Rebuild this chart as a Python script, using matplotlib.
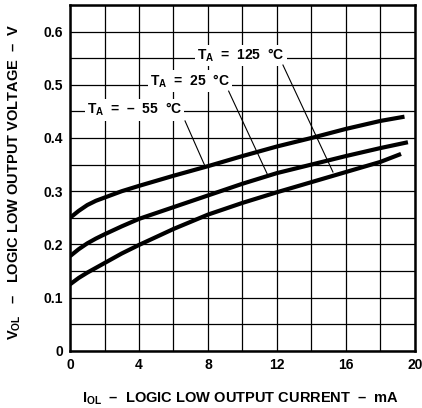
import matplotlib
matplotlib.use("Agg")
import matplotlib.pyplot as plt
import numpy as np
from matplotlib.ticker import MultipleLocator

plt.rcParams['font.family'] = ['Liberation Sans', 'DejaVu Sans']
plt.rcParams['font.weight'] = 'bold'
plt.rcParams['mathtext.fontset'] = 'custom'
plt.rcParams['mathtext.rm'] = 'Liberation Sans:bold'
plt.rcParams['mathtext.bf'] = 'Liberation Sans:bold'
plt.rcParams['mathtext.it'] = 'Liberation Sans:bold'

# data
i_125 = [0, 0.5, 1, 1.5, 2, 3, 4, 6, 8, 10, 12, 14, 16, 18, 19.4]
v_125 = [0.25, 0.263, 0.274, 0.282, 0.288, 0.300, 0.310, 0.329, 0.347, 0.366, 0.384, 0.400, 0.417, 0.432, 0.440]
i_25 = [0, 0.5, 1, 1.5, 2, 3, 4, 6, 8, 10, 12, 14, 16, 18, 19.6]
v_25 = [0.178, 0.191, 0.202, 0.211, 0.219, 0.234, 0.248, 0.270, 0.292, 0.314, 0.334, 0.350, 0.366, 0.381, 0.392]
i_m55 = [0, 0.5, 1, 1.5, 2, 3, 4, 6, 8, 10, 12, 14, 16, 18, 19.2]
v_m55 = [0.125, 0.137, 0.147, 0.156, 0.165, 0.183, 0.199, 0.229, 0.256, 0.278, 0.298, 0.317, 0.336, 0.355, 0.370]

x_ticks = [0, 4, 8, 12, 16, 20]
y_ticks = [0, 0.1, 0.2, 0.3, 0.4, 0.5, 0.6]
y_tick_labels = ['0', '0.1', '0.2', '0.3', '0.4', '0.5', '0.6']

labels = [r'$\mathbf{T_A}$  =  125  °C', r'$\mathbf{T_A}$  =  25  °C', r'$\mathbf{T_A}$  =  –  55  °C']
label_pos = [(9.9, 0.555), (6.95, 0.507), (3.75, 0.453)]
leader_start = [(12.35, 0.537), (9.2, 0.488), (6.67, 0.432)]
leader_end = [(15.25, 0.336), (11.5, 0.328), (7.83, 0.347)]

fig = plt.figure(figsize=(4.22, 4.08), dpi=100)
ax = fig.add_axes([0.166, 0.140, 0.817, 0.848])

for xs, ys in [(i_125, v_125), (i_25, v_25), (i_m55, v_m55)]:
    ax.plot(xs, ys, color='black', lw=3.0, solid_capstyle='butt', solid_joinstyle='round', zorder=3)

ax.set_xlim(0, 20)
ax.set_ylim(0, 0.65)
ax.set_xticks(x_ticks)
ax.set_yticks(y_ticks)
ax.set_yticklabels(y_tick_labels)
ax.xaxis.set_minor_locator(MultipleLocator(2))
ax.yaxis.set_minor_locator(MultipleLocator(0.05))
ax.grid(True, which='both', color='black', lw=0.9, zorder=1)
ax.tick_params(which='both', length=0, labelsize=10, pad=5)
for lab in ax.get_xticklabels() + ax.get_yticklabels():
    lab.set_fontweight('bold')
for s in ax.spines.values():
    s.set_linewidth(1.8)

for txt, (tx, ty), (sx, sy), (ex, ey) in zip(labels, label_pos, leader_start, leader_end):
    ax.text(tx, ty, txt, ha='center', va='center', fontsize=10, fontweight='bold',
            bbox=dict(facecolor='white', edgecolor='none', pad=1.5), zorder=4)
    ax.plot([sx, ex], [sy, ey], color='black', lw=0.8, zorder=4)

fig.text(0.57, 0.022, r'$\mathbf{I_{OL}}$  –  LOGIC LOW OUTPUT CURRENT  –  mA', ha='center', va='center',
         fontsize=10.5, fontweight='bold')
fig.text(0.035, 0.555, r'$\mathbf{V_{OL}}$   –   LOGIC LOW OUTPUT VOLTAGE  –  V', ha='center', va='center',
         rotation=90, fontsize=10.5, fontweight='bold')

fig.savefig('out.png', dpi=100)
